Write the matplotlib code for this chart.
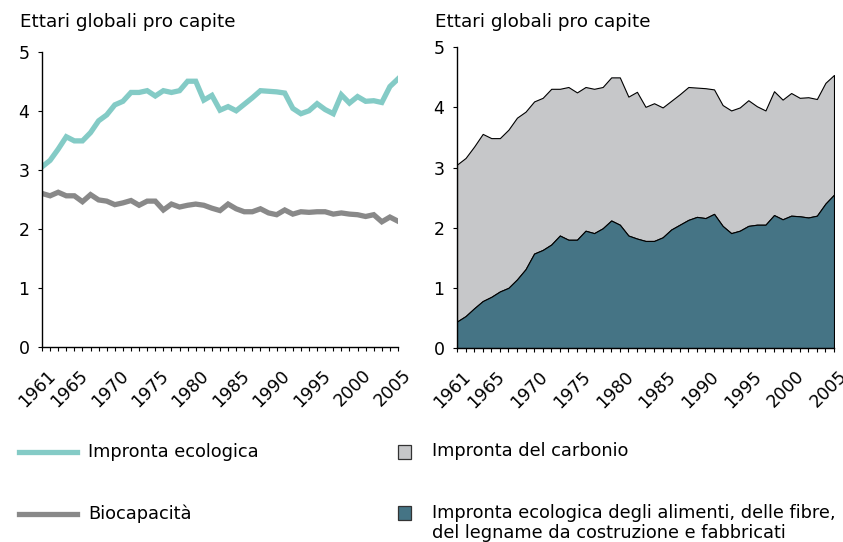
import numpy as np
import matplotlib.pyplot as plt
import matplotlib.transforms as mtransforms
from matplotlib.lines import Line2D
from matplotlib.patches import Rectangle

years = np.arange(1961, 2006)

# Impronta ecologica totale (ettari globali pro capite)
footprint = [3.05, 3.16, 3.35, 3.56, 3.49, 3.49, 3.63, 3.83, 3.93, 4.10,
             4.16, 4.31, 4.31, 4.34, 4.25, 4.34, 4.31, 4.34, 4.50, 4.50,
             4.18, 4.26, 4.01, 4.07, 4.00, 4.11, 4.22, 4.34, 4.33, 4.32,
             4.30, 4.04, 3.95, 4.00, 4.12, 4.02, 3.95, 4.27, 4.13, 4.24,
             4.16, 4.17, 4.14, 4.41, 4.54]

biocapacity = [2.60, 2.56, 2.62, 2.56, 2.56, 2.46, 2.58, 2.49, 2.47, 2.41,
               2.44, 2.48, 2.40, 2.47, 2.47, 2.32, 2.42, 2.37, 2.40, 2.42,
               2.40, 2.35, 2.31, 2.42, 2.34, 2.29, 2.29, 2.34, 2.27, 2.24,
               2.32, 2.25, 2.29, 2.28, 2.29, 2.29, 2.25, 2.27, 2.25, 2.24,
               2.21, 2.24, 2.12, 2.20, 2.13]

# alimenti, fibre, legname e fabbricati (parte bassa della pila)
food_fibre = [0.44, 0.53, 0.66, 0.78, 0.85, 0.94, 1.00, 1.14, 1.31, 1.57,
              1.63, 1.72, 1.87, 1.80, 1.80, 1.95, 1.91, 1.99, 2.12, 2.05,
              1.87, 1.82, 1.78, 1.78, 1.84, 1.97, 2.05, 2.13, 2.18, 2.16,
              2.23, 2.03, 1.91, 1.95, 2.03, 2.05, 2.05, 2.21, 2.14, 2.20,
              2.19, 2.17, 2.20, 2.40, 2.55]

label_years = [1961, 1965, 1970, 1975, 1980, 1985, 1990, 1995, 2000, 2005]

c_foot = '#84cbc6'
c_bio = '#898989'
c_carbon = '#c6c7c9'
c_food = '#457485'

W, H = 843, 542
fig = plt.figure(figsize=(W / 100, H / 100), dpi=100)
fs = 13.2
fs_leg = 12.8
fs_tick = 12.5


def px(x0, y0, x1, y1):
    return [x0 / W, 1 - y1 / H, (x1 - x0) / W, (y1 - y0) / H]


def style(ax):
    ax.set_xlim(1961, 2005)
    ax.set_ylim(0, 5)
    for s in ['top', 'right']:
        ax.spines[s].set_visible(False)
    for s in ['left', 'bottom']:
        ax.spines[s].set_linewidth(1.0)
    ax.set_yticks(range(6))
    ax.set_xticks(years)
    ax.set_xticklabels([str(y) if y in label_years else '' for y in years],
                       rotation=45, ha='right', rotation_mode='anchor')
    ax.tick_params(axis='both', direction='out', length=3, width=0.8,
                   labelsize=fs_tick)
    ax.tick_params(axis='y', pad=6)
    ax.tick_params(axis='x', pad=11)
    shift = mtransforms.ScaledTranslation(3 / 72, 0, fig.dpi_scale_trans)
    for lab in ax.get_xticklabels():
        lab.set_transform(lab.get_transform() + shift)


ax1 = fig.add_axes(px(42, 51.7, 398, 347))
ax1.plot(years, footprint, color=c_foot, lw=3.8, solid_joinstyle='miter')
ax1.plot(years, biocapacity, color=c_bio, lw=3.8, solid_joinstyle='miter')
style(ax1)

ax2 = fig.add_axes(px(457, 47.3, 834, 348))
ax2.fill_between(years, food_fibre, footprint, facecolor=c_carbon,
                 edgecolor='black', lw=0.8)
ax2.fill_between(years, 0, food_fibre, facecolor=c_food,
                 edgecolor='black', lw=0.8)
style(ax2)

fig.text(20 / W, 1 - 22 / H, 'Ettari globali pro capite', fontsize=fs,
         va='center', ha='left')
fig.text(435 / W, 1 - 22 / H, 'Ettari globali pro capite', fontsize=fs,
         va='center', ha='left')

# legenda
for y, col, txt in [(452, c_foot, 'Impronta ecologica'),
                    (514, c_bio, 'Biocapacità')]:
    fig.add_artist(Line2D([19 / W, 77 / W], [1 - y / H, 1 - y / H],
                          color=col, lw=3.8, transform=fig.transFigure))
    fig.text(88 / W, 1 - y / H, txt, fontsize=fs_leg, va='center', ha='left')

for y, col in [(451.5, c_carbon), (513, c_food)]:
    fig.add_artist(Rectangle((398 / W, 1 - (y + 7) / H), 13 / W, 14 / H,
                             facecolor=col, edgecolor='#333333', lw=0.9,
                             transform=fig.transFigure))
fig.text(432 / W, 1 - 451.5 / H, 'Impronta del carbonio', fontsize=fs_leg,
         va='center', ha='left')
fig.text(432 / W, 1 - 523 / H,
         'Impronta ecologica degli alimenti, delle fibre,\n'
         'del legname da costruzione e fabbricati',
         fontsize=fs_leg, va='center', ha='left', linespacing=1.08)

fig.savefig('out.png', dpi=100)
